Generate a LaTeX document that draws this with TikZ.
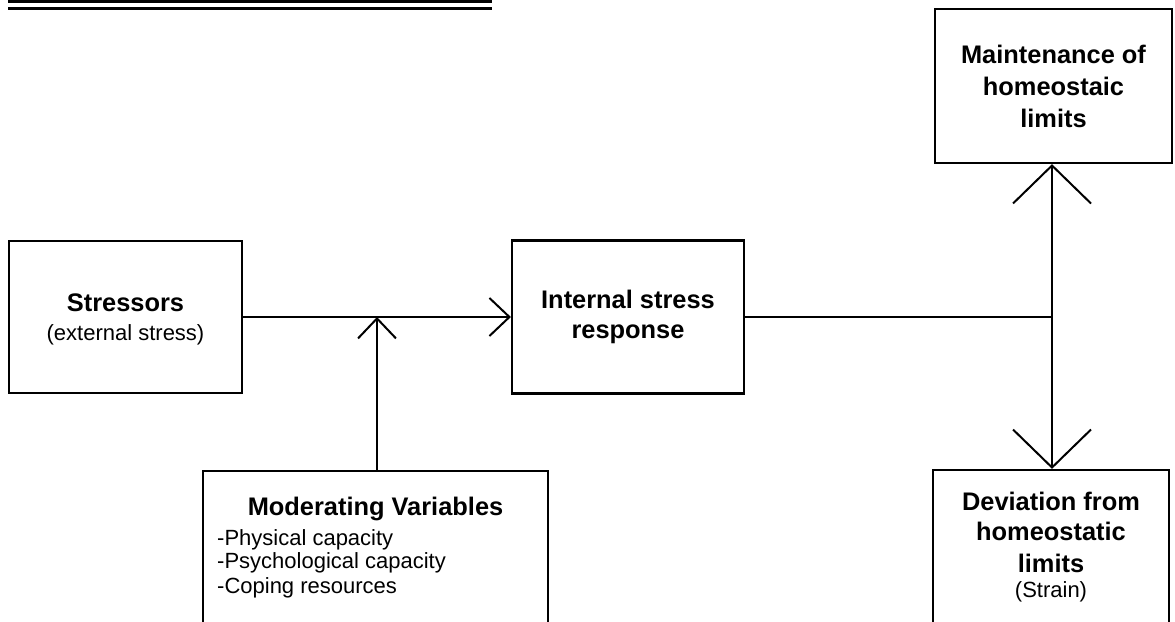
\documentclass[tikz,border=0pt]{standalone}
\usepackage{fontspec}
\setmainfont{Liberation Sans}
\usetikzlibrary{arrows.meta}
\begin{document}
\begin{tikzpicture}[x=1pt,y=-1pt,
  box/.style={draw, line width=2.2pt, inner sep=0pt, rectangle},
  bt/.style={font=\fontsize{25.4}{30}\selectfont\bfseries, inner sep=0pt, anchor=base},
  rt/.style={font=\fontsize{22}{24}\selectfont, inner sep=0pt, anchor=base},
  lt/.style={rt, anchor=base west},
  conn/.style={line width=2pt},
  smallhead/.style={conn, -{Straight Barb[length=20pt,width=38pt]}},
  bighead/.style={conn, -{Straight Barb[length=38pt,width=78pt]}},
]
\useasboundingbox (0,0) rectangle (1175,621);
\clip (0,0) rectangle (1175,621);

% title underline (title itself cut off)
\draw[line width=3pt] (8,1.5) -- (492,1.5);
\draw[line width=3pt] (8,8) -- (492,8);

% boxes
\node[box, minimum width=233pt, minimum height=152pt] (stress) at (125.5,317) {};
\node[box, minimum width=232pt, minimum height=153pt] (internal) at (628,317) {};
\node[box, minimum width=237pt, minimum height=154pt] (maint) at (1053.5,86) {};
\node[box, minimum width=236pt, minimum height=154pt] (dev) at (1051,547) {};
\node[box, minimum width=345pt, minimum height=153pt] (mod) at (375.5,547.5) {};

% texts
\node[bt] (s1) at (125.5,311.7) {Stressors};
\node[rt] (s2) at (125.5,340) {(external stress)};
\node[bt] (i1) at (628,308) {Internal stress};
\node[bt] (i2) at (628,338) {response};
\node[bt] (m1) at (1053.5,63) {Maintenance of};
\node[bt] (m2) at (1053.5,95) {homeostaic};
\node[bt] (m3) at (1053.5,127) {limits};
\node[bt] (d1) at (1051,510) {Deviation from};
\node[bt] (d2) at (1051,540) {homeostatic};
\node[bt] (d3) at (1051,572) {limits};
\node[rt] (d4) at (1051,597) {(Strain)};
\node[bt] (v0) at (375.5,515) {Moderating Variables};
\node[lt] (v1) at (217,545) {-Physical capacity};
\node[lt] (v2) at (217,568) {-Psychological capacity};
\node[lt] (v3) at (217,593) {-Coping resources};

% connectors
\coordinate (j1) at (377,317);
\coordinate (j2) at (1052,317);
\draw[smallhead] (stress.east) -- (internal.west);
\draw[smallhead] (j1 |- mod.north) -- (j1);
\draw[conn] (internal.east) -- (j2);
\draw[bighead] (j2) -- (j2 |- maint.south);
\draw[bighead] (j2) -- (j2 |- dev.north);
\end{tikzpicture}
\end{document}
